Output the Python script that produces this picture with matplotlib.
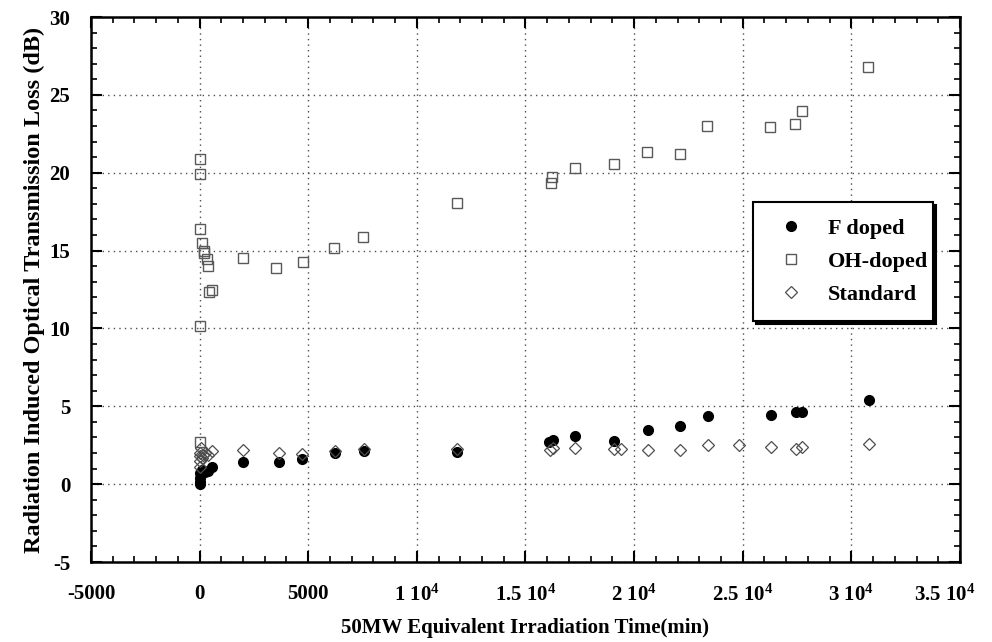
import matplotlib
matplotlib.use("Agg")
from matplotlib import pyplot as plt
from matplotlib.ticker import MultipleLocator, FuncFormatter
from matplotlib.transforms import ScaledTranslation

# Datos (tiempo en min, perdida en dB)
f_doped_t = [0, 0, 20, 40, 100, 250, 400, 550, 2013, 3655, 4700, 6218, 7553,
             11863, 16100, 16250, 17280, 19090, 20640, 22128, 23390, 26290,
             27450, 27730, 30800]
f_doped_db = [0.0, 0.15, 0.4, 0.7, 0.9, 0.75, 0.85, 1.1, 1.44, 1.44, 1.61,
              2.02, 2.13, 2.04, 2.72, 2.85, 3.09, 2.75, 3.47, 3.73, 4.37,
              4.42, 4.63, 4.63, 5.38]

oh_doped_t = [0, 0, 20, 20, 20, 110, 180, 220, 325, 400, 450, 560, 1990,
              3500, 4745, 6200, 7530, 11864, 16160, 16235, 17265, 19075,
              20610, 22113, 23370, 26270, 27420, 27715, 30780]
oh_doped_db = [2.7, 10.15, 16.4, 19.9, 20.9, 15.46, 15.0, 14.85, 14.46,
               13.99, 12.36, 12.47, 14.5, 13.9, 14.24, 15.18, 15.89, 18.03,
               19.36, 19.72, 20.3, 20.56, 21.33, 21.18, 23.02, 22.91, 23.13,
               23.96, 26.77]

standard_t = [0, 0, 20, 40, 60, 100, 150, 250, 400, 550, 2013, 3655, 4700,
              6218, 7553, 11863, 16150, 16250, 17280, 19090, 19380, 20640,
              22128, 23390, 24840, 26290, 27450, 27730, 30800]
standard_db = [1.1, 1.5, 1.8, 2.0, 2.3, 1.7, 1.9, 2.0, 1.9, 2.1, 2.19, 2.02,
               1.93, 2.13, 2.23, 2.25, 2.19, 2.35, 2.30, 2.28, 2.23, 2.21,
               2.19, 2.51, 2.49, 2.36, 2.25, 2.40, 2.58]

plt.rcParams["font.family"] = ["Liberation Serif", "DejaVu Serif"]
plt.rcParams["font.weight"] = "bold"
plt.rcParams["mathtext.fontset"] = "custom"
plt.rcParams["mathtext.rm"] = "Liberation Serif:bold"
plt.rcParams["mathtext.default"] = "rm"
plt.rcParams["axes.unicode_minus"] = False

fig = plt.figure(figsize=(9.92, 6.42), dpi=100)
ax = fig.add_axes([0.0917, 0.1246, 0.8760, 0.8489])

ax.plot(f_doped_t, f_doped_db, linestyle="none", marker="o", markersize=7,
        color="black", label="F doped", zorder=3)
ax.plot(oh_doped_t, oh_doped_db, linestyle="none", marker="s", markersize=7.5,
        markerfacecolor="none", markeredgecolor="0.35", markeredgewidth=1.0,
        label="OH-doped", zorder=3)
ax.plot(standard_t, standard_db, linestyle="none", marker="D", markersize=6.5,
        markerfacecolor="none", markeredgecolor="0.3", markeredgewidth=0.9,
        label="Standard", zorder=3)

ax.set_xlim(-5000, 35000)
ax.set_ylim(-5, 30)
ax.xaxis.set_major_locator(MultipleLocator(5000))
ax.xaxis.set_minor_locator(MultipleLocator(1000))
ax.yaxis.set_major_locator(MultipleLocator(5))
ax.yaxis.set_minor_locator(MultipleLocator(1))


def fmt_x(v, pos):
    if abs(v) < 10000:
        return f"{int(v)}"
    m = v / 10000
    s = f"{m:g}"
    return s + r" 10$^{4}$"


ax.xaxis.set_major_formatter(FuncFormatter(fmt_x))

ax.tick_params(which="both", direction="in", top=True, right=True,
               labelsize=15, width=1.5)
ax.tick_params(axis="x", pad=16)
ax.tick_params(axis="y", pad=15)
ax.tick_params(which="major", length=8)
ax.tick_params(which="minor", length=4, width=1.2)
for lab in ax.get_xticklabels() + ax.get_yticklabels():
    lab.set_fontweight("bold")
for sp in ax.spines.values():
    sp.set_linewidth(1.8)

ax.grid(True, which="major", color="0.3", linestyle=(0, (1, 3)), linewidth=1.0)

ax.set_xlabel("50MW Equivalent Irradiation Time(min)", fontsize=15,
              fontweight="bold", labelpad=9)
ax.set_ylabel("Radiation Induced Optical Transmission Loss (dB)", fontsize=17.5,
              fontweight="bold", labelpad=3)

leg = ax.legend(loc="upper left", bbox_to_anchor=(0.762, 0.4495, 0.207, 0.2115),
                mode="expand", fontsize=16,
                frameon=True, fancybox=False, framealpha=1, edgecolor="black",
                shadow={"color": "black", "alpha": 1}, borderpad=0.75,
                labelspacing=0.55, handletextpad=0.7, borderaxespad=0,
                handlelength=1.9)
leg.get_frame().set_linewidth(1.5)
for t in leg.get_texts():
    t.set_fontweight("bold")

fig.canvas.draw()
# la ultima etiqueta (3.5 10^4) va corrida a la izquierda como en el original
last = [t for t in ax.xaxis.get_major_ticks() if abs(t.get_loc() - 35000) < 1]
for t in last:
    t.label1.set_transform(t.label1.get_transform()
                           + ScaledTranslation(-0.15, 0, fig.dpi_scale_trans))

plt.savefig("out.png", dpi=100)
